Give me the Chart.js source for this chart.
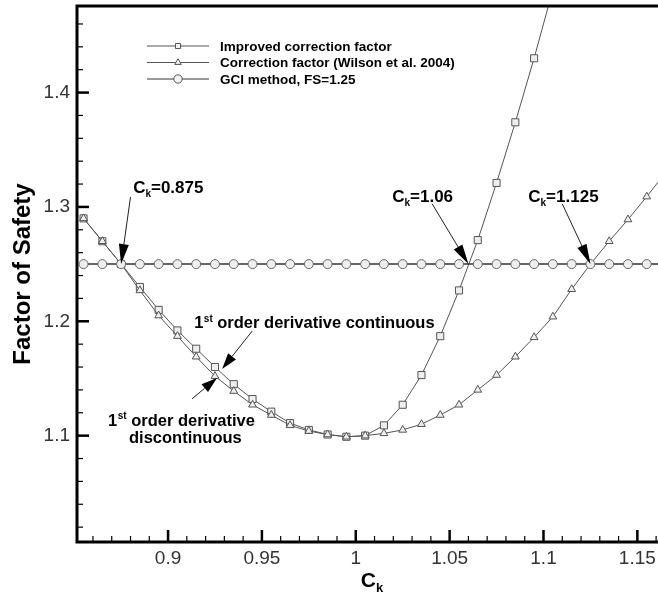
<!DOCTYPE html>
<html><head><meta charset="utf-8">
<script src="https://cdn.jsdelivr.net/npm/chart.js@4/dist/chart.umd.min.js"></script>
<style>html,body{margin:0;padding:0;background:#fff;overflow:hidden}#wrap{width:664px;height:600px;position:relative}</style>
</head><body><div id="wrap"><canvas id="c"></canvas></div>
<script>
// ---- data ----
const ck = [0.855,0.865,0.875,0.885,0.895,0.905,0.915,0.925,0.935,0.945,0.955,0.965,0.975,0.985,0.995,
            1.005,1.015,1.025,1.035,1.045,1.055,1.065,1.075,1.085,1.095,1.105,1.115,1.125,1.135,1.145,1.155,1.165];
const improvedFS = [1.290,1.270,1.250,1.230,1.210,1.192,1.176,1.160,1.145,1.132,1.121,1.111,1.105,1.101,1.099,
            1.100,1.109,1.127,1.153,1.187,1.227,1.271,1.321,1.374,1.430,1.490,null,null,null,null,null,null];
const wilsonFS = [1.290,1.270,1.250,1.227,1.205,1.187,1.169,1.152,1.139,1.127,1.118,1.109,1.104,1.101,1.099,
            1.100,1.102,1.105,1.110,1.118,1.127,1.140,1.153,1.169,1.186,1.204,1.228,1.250,1.270,1.289,1.309,1.330];
const gciFS = [1.25,1.25,1.25,1.25,1.25,1.25,1.25,1.25,1.25,1.25,1.25,1.25,1.25,1.25,1.25,
            1.25,1.25,1.25,1.25,1.25,1.25,1.25,1.25,1.25,1.25,1.25,1.25,1.25,1.25,1.25,1.25,1.25];
const seriesNames = ['Improved correction factor','Correction factor (Wilson et al. 2004)','GCI method, FS=1.25'];
const xTickLabels = ['0.9','0.95','1','1.05','1.1','1.15'];
const yTickLabels = ['1.1','1.2','1.3','1.4'];

// annotations (data coordinates)
const ckNoteText = ['=0.875','=1.06','=1.125'];
const ckNoteAt = [[0.8814,1.3122],[1.0194,1.3044],[1.0919,1.3044]];
const ckArrowFrom = [[0.8800,1.3087],[1.0407,1.3027],[1.1100,1.3027]];
const ckArrowTo = [[0.875,1.25],[1.06,1.25],[1.125,1.25]];
const contNoteAt = [0.9139,1.194];
const contArrow = [[0.9448,1.1914],[0.9288,1.1583]];
const discNoteAt = [[0.8680,1.1087],[0.8792,1.0940]];
const discArrow = [[0.9128,1.1322],[0.9261,1.1505]];

const FONT = "'Liberation Sans', Arial, Helvetica, sans-serif";

function arrow(ctx, x0, y0, x1, y1, L, W) {
  const ang = Math.atan2(y1 - y0, x1 - x0);
  const bx = x1 - L * Math.cos(ang), by = y1 - L * Math.sin(ang);
  ctx.beginPath(); ctx.moveTo(x0, y0); ctx.lineTo(bx, by); ctx.stroke();
  ctx.beginPath(); ctx.moveTo(x1, y1);
  ctx.lineTo(bx + W * Math.sin(ang), by - W * Math.cos(ang));
  ctx.lineTo(bx - W * Math.sin(ang), by + W * Math.cos(ang));
  ctx.closePath(); ctx.fill();
}
function drawCk(ctx, x, y, rest, size) {
  ctx.font = 'bold ' + size + 'px ' + FONT;
  ctx.fillText('C', x, y); x += ctx.measureText('C').width;
  ctx.font = 'bold ' + Math.round(size * 0.6) + 'px ' + FONT;
  ctx.fillText('k', x, y + size * 0.22); x += ctx.measureText('k').width;
  ctx.font = 'bold ' + size + 'px ' + FONT;
  ctx.fillText(rest, x, y);
}
function drawFirst(ctx, x, y, rest, size) {
  ctx.font = 'bold ' + size + 'px ' + FONT;
  ctx.fillText('1', x, y); x += ctx.measureText('1').width;
  ctx.font = 'bold ' + Math.round(size * 0.58) + 'px ' + FONT;
  ctx.fillText('st', x + 0.5, y - size * 0.38); x += ctx.measureText('st').width + 0.5;
  ctx.font = 'bold ' + size + 'px ' + FONT;
  ctx.fillText(rest, x, y);
}
function marker(ctx, style, x, y, r) {
  ctx.beginPath();
  if (style === 'rect') { const s = r * Math.SQRT1_2; ctx.rect(x - s, y - s, 2 * s, 2 * s); }
  else if (style === 'triangle') {
    for (let k = 0; k < 3; k++) { const a = k * 2 * Math.PI / 3; const px = x + Math.sin(a) * r, py = y - Math.cos(a) * r; k ? ctx.lineTo(px, py) : ctx.moveTo(px, py); }
    ctx.closePath();
  } else { ctx.arc(x, y, r, 0, Math.PI * 2); }
  ctx.fill(); ctx.stroke();
}

const styles = ['rect', 'triangle', 'circle'];
const decor = {
  id: 'decor',
  afterDraw(chart) {
    const { ctx, chartArea: a, scales: { x, y } } = chart;
    ctx.save();
    ctx.strokeStyle = '#000'; ctx.lineCap = 'butt';
    // inward ticks, x
    for (let i = 86; i <= 116; i++) {
      const px = x.getPixelForValue(i / 100);
      if (px < a.left + 2 || px > a.right) continue;
      const major = i % 5 === 0;
      ctx.lineWidth = major ? 2.5 : 1.2;
      ctx.beginPath(); ctx.moveTo(px, a.bottom); ctx.lineTo(px, a.bottom - (major ? 12 : 6)); ctx.stroke();
    }
    for (let i = 102; i <= 146; i += 2) {
      const py = y.getPixelForValue(i / 100);
      const major = i % 10 === 0;
      ctx.lineWidth = major ? 2.5 : 1.2;
      ctx.beginPath(); ctx.moveTo(a.left, py); ctx.lineTo(a.left + (major ? 12 : 6), py); ctx.stroke();
    }
    // frame
    ctx.lineWidth = 3;
    ctx.beginPath();
    ctx.moveTo(a.right, a.top); ctx.lineTo(a.left, a.top); ctx.lineTo(a.left, a.bottom); ctx.lineTo(a.right, a.bottom);
    ctx.stroke();

    // legend
    const ds = chart.data.datasets;
    const rows = [a.top + 40, a.top + 56.5, a.top + 73];
    const legendOrder = [2, 1, 0];
    for (let r = 0; r < 3; r++) {
      const d = ds[legendOrder[r]];
      ctx.strokeStyle = d.borderColor; ctx.lineWidth = 1;
      ctx.beginPath(); ctx.moveTo(a.left + 70, rows[r]); ctx.lineTo(a.left + 132, rows[r]); ctx.stroke();
      ctx.strokeStyle = '#555'; ctx.fillStyle = '#f2f2f2';
      marker(ctx, styles[r], a.left + 101, rows[r], [3.6, 3.8, 4.2][r]);
      ctx.fillStyle = '#000'; ctx.font = 'bold 13.5px ' + FONT; ctx.textBaseline = 'middle';
      ctx.fillText(seriesNames[r], a.left + 143, rows[r] + 1);
    }

    // annotations
    ctx.textBaseline = 'alphabetic'; ctx.fillStyle = '#000'; ctx.strokeStyle = '#222'; ctx.lineWidth = 1;
    for (let k = 0; k < 3; k++) {
      drawCk(ctx, x.getPixelForValue(ckNoteAt[k][0]), y.getPixelForValue(ckNoteAt[k][1]), ckNoteText[k], 17);
      arrow(ctx, x.getPixelForValue(ckArrowFrom[k][0]), y.getPixelForValue(ckArrowFrom[k][1]),
        x.getPixelForValue(ckArrowTo[k][0]), y.getPixelForValue(ckArrowTo[k][1]), 20, 5);
    }
    drawFirst(ctx, x.getPixelForValue(contNoteAt[0]), y.getPixelForValue(contNoteAt[1]), ' order derivative continuous', 16.5);
    arrow(ctx, x.getPixelForValue(contArrow[0][0]), y.getPixelForValue(contArrow[0][1]),
      x.getPixelForValue(contArrow[1][0]), y.getPixelForValue(contArrow[1][1]), 16, 5);
    drawFirst(ctx, x.getPixelForValue(discNoteAt[0][0]), y.getPixelForValue(discNoteAt[0][1]), ' order derivative', 16.5);
    ctx.font = 'bold 16.5px ' + FONT;
    ctx.fillText('discontinuous', x.getPixelForValue(discNoteAt[1][0]), y.getPixelForValue(discNoteAt[1][1]));
    arrow(ctx, x.getPixelForValue(discArrow[0][0]), y.getPixelForValue(discArrow[0][1]),
      x.getPixelForValue(discArrow[1][0]), y.getPixelForValue(discArrow[1][1]), 16, 5);

    // x axis title C_k (centred under the visible part of the axis)
    const cx = x.getPixelForValue(1.0) + 5;
    drawCk(ctx, cx, a.bottom + 45, '', 21);
    ctx.restore();
  }
};

const noPad = s => { s.paddingTop = 0; s.paddingBottom = 0; s.paddingLeft = 0; s.paddingRight = 0; };
const pts = arr => ck.map((v, i) => ({ x: v, y: arr[i] }));
new Chart(document.getElementById('c'), {
  type: 'line',
  data: {
    datasets: [
      { label: seriesNames[2], data: pts(gciFS), borderColor: '#333', borderWidth: 1.5, pointStyle: 'circle',
        pointRadius: 4.5, pointBorderColor: '#666', pointBackgroundColor: '#eeeeee', pointBorderWidth: 1, tension: 0 },
      { label: seriesNames[1], data: pts(wilsonFS), borderColor: '#555', borderWidth: 1, pointStyle: 'triangle',
        pointRadius: 4.5, pointBorderColor: '#555', pointBackgroundColor: '#eeeeee', pointBorderWidth: 1, tension: 0 },
      { label: seriesNames[0], data: pts(improvedFS), borderColor: '#555', borderWidth: 1, pointStyle: 'rect',
        pointRadius: 5, pointBorderColor: '#555', pointBackgroundColor: '#eeeeee', pointBorderWidth: 1, tension: 0 }
    ]
  },
  options: {
    responsive: true, maintainAspectRatio: false, animation: false,
    layout: { padding: { top: 3, left: 0, right: 0, bottom: 0 } },
    plugins: { legend: { display: false }, tooltip: { enabled: false } },
    scales: {
      x: {
        type: 'linear', min: 0.8515, max: 1.161,
        grid: { display: false, drawTicks: false }, border: { display: false },
        afterBuildTicks: s => { s.ticks = xTickLabels.map(t => ({ value: parseFloat(t) })); },
        afterFit: s => { s.height = 58; noPad(s); },
        ticks: { padding: 5, color: '#333', font: { family: FONT, size: 19 }, maxRotation: 0, autoSkip: false,
          callback: (v, i) => xTickLabels[i] }
      },
      y: {
        type: 'linear', min: 1.007, max: 1.4757,
        grid: { display: false, drawTicks: false }, border: { display: false },
        afterBuildTicks: s => { s.ticks = yTickLabels.map(t => ({ value: parseFloat(t) })); },
        afterFit: s => { s.width = 77; noPad(s); },
        ticks: { padding: 7, color: '#333', font: { family: FONT, size: 19 }, autoSkip: false,
          callback: (v, i) => yTickLabels[i] },
        title: { display: true, text: 'Factor of Safety', color: '#000',
          font: { family: FONT, size: 24, weight: 'bold' }, padding: { top: 9, bottom: 0 } }
      }
    }
  },
  plugins: [decor]
});
</script>
</body></html>
